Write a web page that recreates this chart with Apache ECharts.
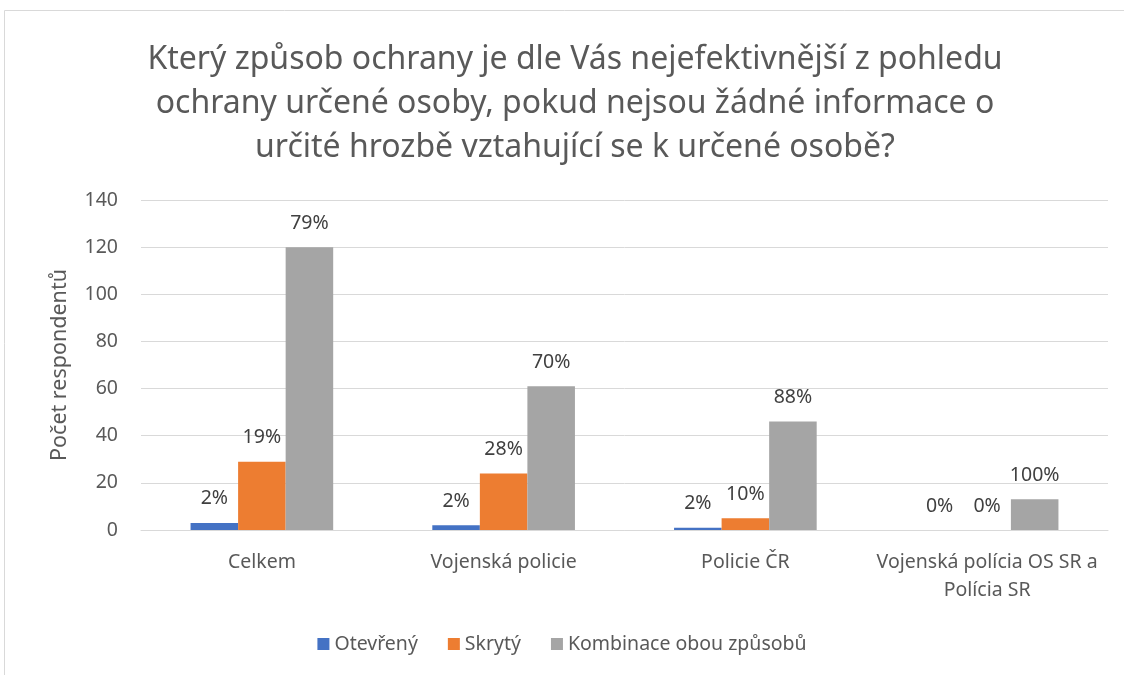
<!DOCTYPE html>
<html>
<head>
<meta charset="utf-8">
<script src="https://cdn.jsdelivr.net/npm/echarts@6/dist/echarts.min.js"></script>
<style>
  html, body { margin: 0; padding: 0; background: #fff; }
  #chart { width: 1124px; height: 675px; }
</style>
</head>
<body>
<div id="chart"></div>
<script>
const categories = ['Celkem', 'Vojenská policie', 'Policie ČR', 'Vojenská polícia OS SR a\nPolícia SR'];
const otevreny = [3, 2, 1, 0];
const skryty = [29, 24, 5, 0];
const kombinace = [120, 61, 46, 13];
// percentage labels shown above bars
const otevrenyPct = [2, 2, 2, 0];
const skrytyPct = [19, 28, 10, 0];
const kombinacePct = [79, 70, 88, 100];
const yTicks = { min: 0, max: 140, interval: 20 };

const fontFamily = '"Noto Sans", "DejaVu Sans", sans-serif';
const textColor = '#595959';

const chart = echarts.init(document.getElementById('chart'));

function makeSeries(name, values, pct, color) {
  return {
    name,
    type: 'bar',
    barGap: '0%',
    barCategoryGap: '41%',
    itemStyle: { color },
    label: {
      show: true,
      position: 'top',
      distance: 14,
      color: '#404040',
      fontSize: 19.5,
      fontFamily,
      formatter: (p) => pct[p.dataIndex] + '%',
    },
    data: values,
  };
}

const option = {
  animation: false,
  graphic: [
    {
      type: 'rect',
      shape: { x: 4.5, y: 10.5, width: 1140, height: 700 },
      style: { fill: 'none', stroke: '#d9d9d9', lineWidth: 1 },
      silent: true,
    },
  ],
  title: {
    text: 'Který způsob ochrany je dle Vás nejefektivnější z pohledu\nochrany určené osoby, pokud nejsou žádné informace o\nurčité hrozbě vztahující se k určené osobě?',
    left: 570,
    top: 33,
    textAlign: 'center',
    textStyle: {
      fontFamily,
      fontSize: 32,
      fontWeight: 'normal',
      color: textColor,
      lineHeight: 44,
    },
  },
  legend: {
    bottom: 16,
    left: 'center',
    icon: 'rect',
    itemWidth: 12,
    itemHeight: 12,
    itemGap: 30,
    textStyle: { fontFamily, fontSize: 19.5, color: textColor },
  },
  grid: {
    left: 141,
    right: 16,
    top: 200,
    bottom: 145,
  },
  xAxis: {
    type: 'category',
    data: categories,
    axisLine: { lineStyle: { color: '#d9d9d9' } },
    axisTick: { show: false },
    axisLabel: {
      margin: 18,
      fontFamily,
      fontSize: 19.5,
      color: textColor,
      lineHeight: 28,
      interval: 0,
    },
  },
  yAxis: {
    type: 'value',
    ...yTicks,
    name: 'Počet respondentů',
    nameLocation: 'middle',
    nameRotate: 90,
    nameGap: 70,
    nameTextStyle: { fontFamily, fontSize: 21.5, color: textColor },
    axisLine: { show: false },
    axisTick: { show: false },
    splitLine: { lineStyle: { color: '#d9d9d9' } },
    axisLabel: { margin: 23, fontFamily, fontSize: 19.5, color: textColor },
  },
  series: [
    makeSeries('Otevřený', otevreny, otevrenyPct, '#4472C4'),
    makeSeries('Skrytý', skryty, skrytyPct, '#ED7D31'),
    makeSeries('Kombinace obou způsobů', kombinace, kombinacePct, '#A5A5A5'),
  ],
};

chart.setOption(option);
</script>
</body>
</html>
